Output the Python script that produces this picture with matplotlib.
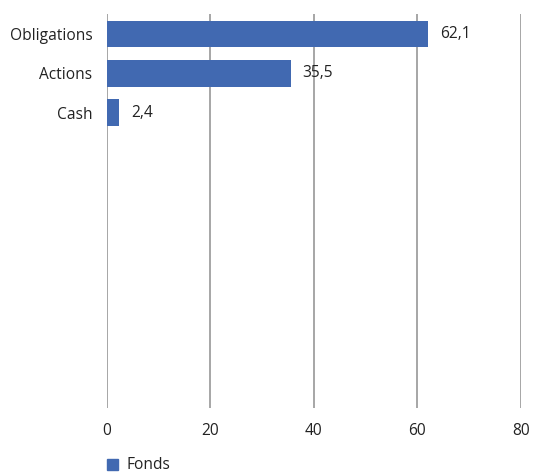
import matplotlib.pyplot as plt
import numpy as np

plt.rcParams['font.family'] = ['Open Sans', 'DejaVu Sans']

categories = ['Obligations', 'Actions', 'Cash']
values = [62.1, 35.5, 2.4]
labels = ['62,1', '35,5', '2,4']
n_slots = 10  # chart keeps room for empty categories below
xticks = [0, 20, 40, 60, 80]

bar_col = '#4169b1'
grid_col = '#a6a6a6'
fs = 11.2

fig = plt.figure(figsize=(5.36, 4.74), dpi=100)
ax = fig.add_axes([0.1996, 0.139, 0.7724, 0.831])

ypos = np.arange(len(categories))
ax.barh(ypos, values, height=0.68, color=bar_col, zorder=3)
for y, v, lab in zip(ypos, values, labels):
    ax.text(v + 2.3, y, lab, va='center', ha='left', fontsize=fs, color='#222222', zorder=4)

ax.set_ylim(n_slots - 0.5, -0.5)
ax.set_yticks(ypos)
ax.set_yticklabels(categories, fontsize=fs, color='#222222')
ax.set_xlim(0, 80)
ax.set_xticks(xticks)
ax.set_xticklabels([str(t) for t in xticks], fontsize=fs, color='#222222')
ax.tick_params(axis='both', length=0)
ax.tick_params(axis='x', pad=11)
ax.tick_params(axis='y', pad=10.5)

for t in xticks:
    ax.axvline(t, color=grid_col, lw=1.4, zorder=1)
for s in ax.spines.values():
    s.set_visible(False)

fig.patches.append(plt.Rectangle((107 / 536, 1 - 470 / 474), 11 / 536, 11 / 474,
                                 transform=fig.transFigure, color=bar_col))
fig.text(126 / 536, 1 - 465 / 474, 'Fonds', fontsize=fs, va='center', ha='left', color='#222222')

plt.savefig('out.png', dpi=100)
